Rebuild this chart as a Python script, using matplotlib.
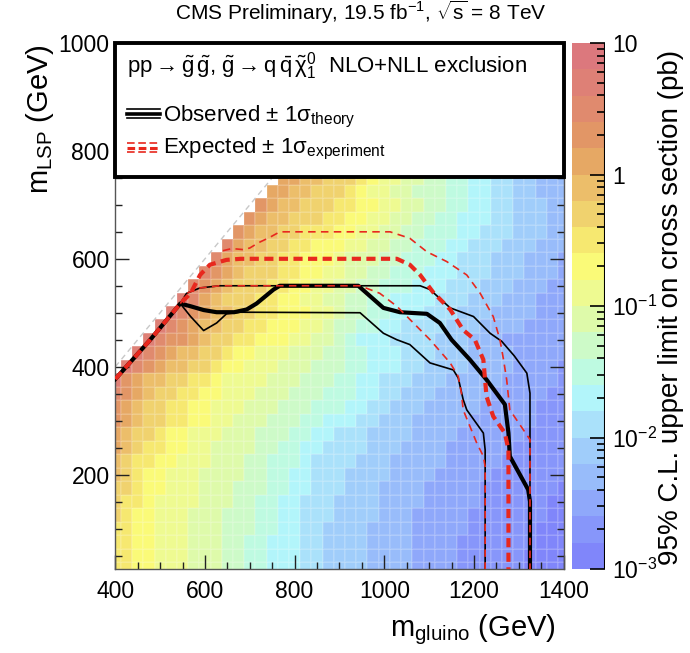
import numpy as np
import matplotlib
matplotlib.use("Agg")
import matplotlib.pyplot as plt
from matplotlib.colors import ListedColormap, LogNorm
from matplotlib.lines import Line2D
from matplotlib.patches import Rectangle
from matplotlib.ticker import MultipleLocator, LogLocator, NullFormatter

plt.rcParams['font.family'] = ['Liberation Sans', 'DejaVu Sans']
plt.rcParams['mathtext.fontset'] = 'custom'
plt.rcParams['mathtext.rm'] = 'Liberation Sans'
plt.rcParams['mathtext.it'] = 'Liberation Sans:italic'
plt.rcParams['mathtext.sf'] = 'Liberation Sans'
plt.rcParams['mathtext.default'] = 'regular'

# ----- grid (bin centres, GeV) -----
m_gluino = np.arange(400, 1401, 25)
m_lsp = np.arange(25, 751, 25)

# ----- upper limit per cell, as colour band -----
# band k covers 10^(-3+0.2k) .. 10^(-3+0.2(k+1)) pb, '.' = no point
BANDS = "0123456789ABCDEFGHIJ"
limit_rows = [  # bottom row (m_LSP = 25) first, columns m_gluino = 400..1400
    "CCBBAAA999" "8877666554" "4443333222" "2111111000" "0",
    "CCBBAAA999" "8877666554" "4443333222" "2111111000" "0",
    "CCBBAAA999" "8877666554" "4443333222" "2111111100" "0",
    "CCBBAAA999" "8887766554" "4443333222" "2211111100" "0",
    "DCBBAAA999" "8887766555" "4444333222" "2211111110" "0",
    "DCCBAAAA99" "9887766555" "4444333322" "2221111110" "0",
    "DDCBBAAA99" "9888776655" "5444333322" "2221111111" "0",
    "EDCBBAAA99" "9988776655" "5444433332" "2222111111" "1",
    "EDCCBBAAA9" "9988777655" "5544433333" "2222211111" "1",
    "FEDCCBBAA9" "9998877665" "5554443333" "2222221111" "1",
    "FEDDCBBAAA" "9998887766" "5554444333" "3222222111" "1",
    "GFEDDCCBBA" "A999888776" "6655444333" "3322222211" "1",
    "GFEDDCCBBA" "AA99988877" "7665544433" "3332222211" "1",
    "HGFEDDCCBB" "AAA9998887" "7766554443" "3333222221" "1",
    "IGFEEDDCCB" "AAAA999888" "7766555444" "3333322222" "1",
    ".IHGFEEDDC" "BBAAA99988" "8776665544" "4433332222" "1",
    "..IHGFEEDD" "CBBAAA9998" "8776665554" "4433332222" "2",
    "...IHGGFED" "DCCBBBAA99" "8766655554" "4433322222" "2",
    "....IHGFEE" "DDCCBBBAA9" "8877665555" "4443333222" "2",
    ".....IHGFE" "EDDCCBBBAA" "9887766655" "5444333322" "2",
    "......IHFE" "DDDCCBBAA9" "9887766665" "5544433322" "2",
    ".......HGF" "EDDDCCBBAA" "9988777666" "5554443332" "2",
    "........HG" "FEDDDCCBBA" "A998877766" "6555444333" "2",
    ".........H" "FEEDDCCBBB" "A999887776" "6555444333" "2",
    ".........." "HFEEDDCCBB" "BAA9988777" "6655544433" "3",
    ".........." ".GFEEDDCCC" "BBAA998877" "7665554443" "3",
    ".........." "..GFEEDDDC" "CBBAA99887" "7666554443" "3",
    ".........." "...GFEEDDD" "CCBBAA9988" "7766554443" "3",
    ".........." "....FFEEDD" "DCBAA99888" "7766554433" "3",
    ".........." ".....FFEED" "DDCBAA9988" "7766554433" "3",
]

# ----- exclusion contours (m_gluino, m_LSP) -----
obs_x = [400, 478, 545, 568, 597, 626, 665, 693, 715, 753, 767, 942, 998, 1035,
         1095, 1124, 1150, 1191, 1228, 1269, 1277, 1280, 1321, 1325, 1325]
obs_y = [377, 450, 517, 512, 505, 501, 501, 506, 517, 543, 550, 550, 509, 501,
         498, 481, 450, 413, 376, 330, 277, 234, 172, 150, 25]
obs_up_x = [545, 559, 589, 633, 1080, 1102, 1147, 1199, 1236, 1262, 1290, 1318, 1325, 1325]
obs_up_y = [517, 536, 546, 550, 550, 543, 509, 493, 462, 447, 420, 388, 351, 25]
obs_dn_x = [545, 568, 597, 626, 648, 678, 946, 998, 1028, 1057, 1102, 1154, 1165,
            1176, 1184, 1221, 1225, 1225]
obs_dn_y = [517, 493, 467, 481, 498, 501, 500, 462, 450, 441, 407, 394, 379,
            339, 320, 277, 246, 25]
exp_x = [400, 478, 545, 568, 589, 611, 648, 680, 1028, 1057, 1080, 1109, 1147,
         1176, 1202, 1221, 1228, 1243, 1269, 1277, 1277]
exp_y = [377, 450, 517, 536, 570, 589, 598, 600, 600, 589, 570, 538, 506,
         468, 450, 413, 345, 308, 277, 246, 25]
exp_up_x = [640, 660, 686, 700, 720, 745, 767, 1013, 1057, 1095, 1139, 1184, 1214,
            1243, 1258, 1266, 1273, 1280, 1325, 1325]
exp_up_y = [615, 619, 617, 620, 630, 640, 650, 650, 638, 613, 595, 570, 536,
            493, 450, 413, 376, 320, 265, 25]
exp_dn_x = [545, 559, 589, 633, 946, 990, 1028, 1065, 1102, 1147, 1165, 1172,
            1176, 1206, 1221, 1225, 1225]
exp_dn_y = [517, 536, 546, 550, 550, 536, 512, 481, 450, 407, 382, 351,
            320, 259, 234, 215, 25]

# palette, lowest band first
palette = ["#8086fa", "#8796fa", "#8fa8fa", "#98bcfa", "#a0cdfa", "#aae1fa",
           "#b2f5fa", "#befae1", "#cdfac8", "#defaaa", "#eefa91", "#fafa78",
           "#f6e870", "#f0d26e", "#ecbe6a", "#e6a864", "#e29666", "#e08a6e",
           "#de8076", "#dc787d"]

# ----- build the value grid -----
Z = np.full((len(m_lsp), len(m_gluino)), np.nan)
for i, row in enumerate(limit_rows):
    for j, ch in enumerate(row):
        if ch != ".":
            k = BANDS.index(ch)
            Z[i, j] = 10 ** (-3 + 0.2 * k + 0.1)
Z = np.ma.masked_invalid(Z)

xe = np.append(m_gluino - 12.5, m_gluino[-1] + 12.5)
ye = np.append(m_lsp - 12.5, m_lsp[-1] + 12.5)

W, H = 690, 653
fig = plt.figure(figsize=(W / 100, H / 100), dpi=100)
ax = fig.add_axes([115.3 / W, 1 - 569 / H, 448.3 / W, 526 / H])
cax = fig.add_axes([571.7 / W, 1 - 569 / H, 33.3 / W, 526 / H])

cmap = ListedColormap(palette)
norm = LogNorm(vmin=1e-3, vmax=10)
mesh = ax.pcolormesh(xe, ye, Z, cmap=cmap, norm=norm,
                     edgecolor=(1, 1, 1, 0.12), linewidth=0.3, zorder=1)

ax.plot([400, 752], [400, 752], color="#c8c8c8", lw=1.0, dashes=(4, 3), zorder=2)

# black: observed +- 1 sigma theory
ax.plot(obs_up_x, obs_up_y, color="black", lw=1.2, zorder=3)
ax.plot(obs_dn_x, obs_dn_y, color="black", lw=1.2, zorder=3)
ax.plot(obs_x, obs_y, color="black", lw=3.0, zorder=3,
        solid_joinstyle="round")
# red: expected +- 1 sigma experiment
red = "#e8281e"
ax.plot(exp_up_x, exp_up_y, color=red, lw=1.2, dashes=(4.5, 3.2), zorder=4)
ax.plot(exp_dn_x, exp_dn_y, color=red, lw=1.2, dashes=(4.5, 3.2), zorder=4)
ax.plot(exp_x, exp_y, color=red, lw=3.0, dashes=(2.2, 1.3), zorder=4)

ax.set_xlim(400, 1400)
ax.set_ylim(25, 1000)
ax.xaxis.set_major_locator(MultipleLocator(200))
ax.xaxis.set_minor_locator(MultipleLocator(50))
ax.yaxis.set_major_locator(MultipleLocator(200))
ax.yaxis.set_minor_locator(MultipleLocator(50))
ax.tick_params(which="both", direction="in", top=False, right=True,
               labelsize=16.5, width=1.0, color="#222222")
ax.tick_params(which="major", length=10)
ax.tick_params(which="minor", length=5)
ax.tick_params(axis="x", pad=8)
ax.tick_params(axis="y", pad=4)
for s in ax.spines.values():
    s.set_color("#555555")
    s.set_linewidth(1.0)

# legend box
ax.add_patch(Rectangle((400, 752), 1000, 248, facecolor="white",
                       edgecolor="black", lw=2.8, zorder=5, clip_on=False))

def fx(px):
    return px / W

def fy(py):
    return 1 - py / H

fig.text(fx(127), fy(73),
         r"pp$\rightarrow\tilde{g}\,\tilde{g}$, $\tilde{g}\rightarrow$q$\,\bar{q}\,\tilde{\chi}^{0}_{1}$  NLO+NLL exclusion",
         fontsize=16, va="baseline", ha="left", zorder=6)
fig.text(fx(163), fy(121.5), r"Observed $\pm$ 1$\sigma_{theory}$",
         fontsize=16, va="baseline", ha="left", zorder=6)
fig.text(fx(163), fy(153.5), r"Expected $\pm$ 1$\sigma_{experiment}$",
         fontsize=16, va="baseline", ha="left", zorder=6)

for py, lw in [(109, 1.2), (113.5, 2.6), (118, 1.2)]:
    fig.add_artist(Line2D([fx(127), fx(160)], [fy(py), fy(py)], color="black",
                          lw=lw, zorder=6))
for py, lw in [(143, 1.2), (147.5, 2.2), (152, 1.2)]:
    fig.add_artist(Line2D([fx(127), fx(160)], [fy(py), fy(py)], color=red,
                          lw=lw, dashes=(5.5 / lw, 2.6 / lw), zorder=6))

# colorbar
cb = fig.colorbar(mesh, cax=cax)
cb.outline.set_visible(False)
cax.add_artist(Line2D([1, 1], [0, 1], transform=cax.transAxes, color="black", lw=1.5))
cax.yaxis.set_ticks_position("right")
cb.set_ticks([1e-3, 1e-2, 1e-1, 1, 10])
cb.set_ticklabels([r"10$^{-3}$", r"10$^{-2}$", r"10$^{-1}$", "1", "10"])
cax.yaxis.set_minor_locator(LogLocator(base=10, subs=range(2, 10)))
cax.yaxis.set_minor_formatter(NullFormatter())
cax.tick_params(which="both", direction="in", labelsize=16.5, width=1.2, pad=5)
cax.tick_params(which="major", length=11)
cax.tick_params(which="minor", length=6)

# titles
fig.text(fx(361), fy(20), r"CMS Preliminary, 19.5 fb$^{-1}$, $\sqrt{s}$ = 8 TeV",
         fontsize=15, ha="center", va="baseline")
fig.text(fx(556), fy(630), r"m$_{gluino}$ (GeV)", fontsize=21,
         ha="right", va="center")
fig.text(fx(40), fy(44), r"m$_{LSP}$ (GeV)", fontsize=21, rotation=90,
         ha="center", va="top")
fig.text(fx(671), fy(307), "95% C.L. upper limit on cross section (pb)",
         fontsize=20, rotation=90, ha="center", va="center")

fig.savefig("out.png", dpi=100)
